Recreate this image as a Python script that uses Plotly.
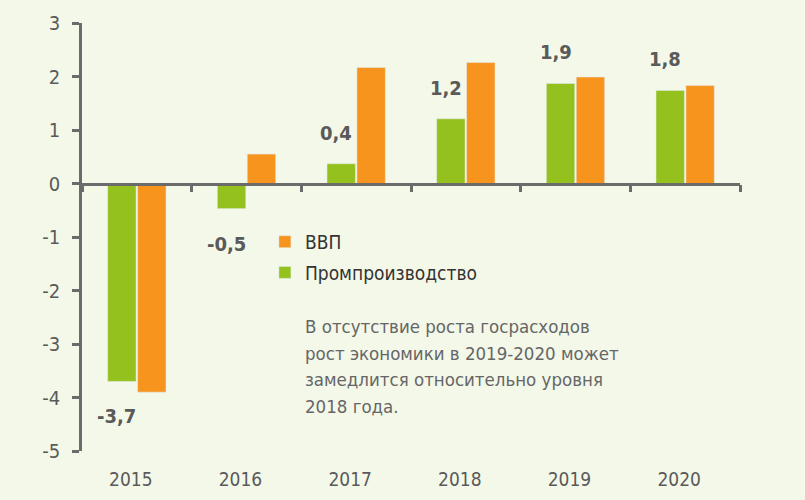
import plotly.graph_objects as go

# data
years = ["2015", "2016", "2017", "2018", "2019", "2020"]
prom = [-3.7, -0.47, 0.37, 1.21, 1.87, 1.74]      # Промпроизводство
vvp = [-3.9, 0.55, 2.17, 2.26, 1.99, 1.83]        # ВВП
prom_labels = ["-3,7", "-0,5", "0,4", "1,2", "1,9", "1,8"]
y_ticks = [-5, -4, -3, -2, -1, 0, 1, 2, 3]
y_tick_text = ["-5", "-4", "-3", "-2", "-1", "0", "1", "2", "3"]
note = [
    "В отсутствие роста госрасходов",
    "рост экономики в 2019-2020 может",
    "замедлится относительно уровня",
    "2018 года.",
]

BG = "#f3f8e9"
GREEN = "#95c11f"
ORANGE = "#f7941d"
AXIS = "#6b6b6b"
FONT = "DejaVu Sans Condensed, Liberation Sans Narrow, sans-serif"
Y_MIN, Y_MAX = -5, 3

fig = go.Figure()
fig.add_bar(x=years, y=prom, name="Промпроизводство", marker_color=GREEN,
            legendgroup="prom", legendrank=2)
fig.add_bar(x=years, y=vvp, name="ВВП", marker_color=ORANGE,
            legendgroup="vvp", legendrank=1)
# invisible trace so the zero-level category axis gets drawn
fig.add_scatter(x=years, y=[0] * len(years), xaxis="x2", mode="lines",
                line=dict(width=0), showlegend=False, hoverinfo="skip")

# value labels above / below the green bars (x given as category index)
for i, (v, txt) in enumerate(zip(prom, prom_labels)):
    fig.add_annotation(x=i, y=v, text="<b>" + txt + "</b>", showarrow=False,
                       xshift=-20, yshift=31 if v > 0 else -35,
                       font=dict(family=FONT, size=20, color="#5a5a5a"))

# note text, one annotation per line to get the wider line spacing
for k, line in enumerate(note):
    fig.add_annotation(xref="paper", yref="paper", x=0.336, y=0.32,
                       xanchor="left", yanchor="top", align="left",
                       yshift=-26.5 * k, text=line, showarrow=False,
                       font=dict(family=FONT, size=18.5, color="#666666"))

zero_pos = (0 - Y_MIN) / (Y_MAX - Y_MIN)

fig.update_layout(
    width=805, height=500,
    margin=dict(l=82, r=65, t=23, b=49),
    paper_bgcolor=BG, plot_bgcolor=BG,
    barmode="group", bargap=0.4545, bargroupgap=0.05,
    font=dict(family=FONT, size=19, color="#5a5a5a"),
    showlegend=True,
    legend=dict(x=0.278, y=0.533, xanchor="left", yanchor="top",
                traceorder="grouped", tracegroupgap=3,
                bgcolor="rgba(0,0,0,0)",
                font=dict(family=FONT, size=19, color="#333333")),
    xaxis=dict(type="category", range=[-0.5, 5.5], showline=False,
               showgrid=False, ticks="", ticklabelstandoff=15,
               ticklabelshift=-6, automargin=False,
               tickfont=dict(size=19, color="#5a5a5a")),
    xaxis2=dict(type="category", overlaying="x", anchor="free",
                position=zero_pos, side="bottom", range=[-0.5, 5.5],
                showline=True, linecolor=AXIS, linewidth=2.5,
                ticks="outside", tickson="boundaries", ticklen=7,
                tickwidth=2.5, tickcolor=AXIS, showticklabels=False,
                showgrid=False),
    yaxis=dict(range=[Y_MIN, Y_MAX], tickvals=y_ticks, ticktext=y_tick_text,
               showline=True, linecolor=AXIS, linewidth=2.5,
               ticks="outside", ticklen=7, tickwidth=2.5, tickcolor=AXIS,
               showgrid=False, zeroline=False, ticklabelstandoff=8,
               automargin=False, tickfont=dict(size=20, color="#5a5a5a")),
)

# drop the default 8px page margin so the figure sits at the window corner
fig.write_html("out.html", config={"displayModeBar": False},
               post_script="document.body.style.margin = '0';")
